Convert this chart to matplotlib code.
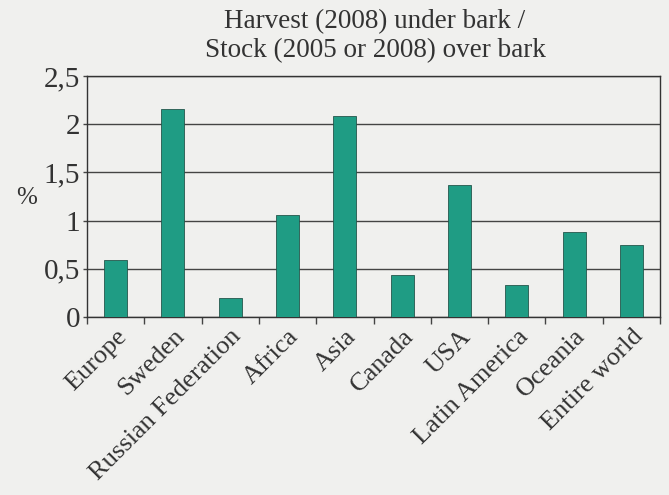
import numpy as np
import matplotlib.pyplot as plt

# Data
regions = ['Europe', 'Sweden', 'Russian Federation', 'Africa', 'Asia',
           'Canada', 'USA', 'Latin America', 'Oceania', 'Entire world']
ratio_pct = [0.59, 2.16, 0.20, 1.06, 2.09, 0.44, 1.37, 0.33, 0.88, 0.75]
yticks = [0, 0.5, 1, 1.5, 2, 2.5]
ytick_labels = ['0', '0,5', '1', '1,5', '2', '2,5']

bg = '#f0f0ee'
plt.rcParams['font.family'] = ['Liberation Serif', 'DejaVu Serif']

fig = plt.figure(figsize=(6.69, 4.95), dpi=100, facecolor=bg)
ax = fig.add_axes([87 / 669, 1 - 317 / 495, (660 - 87) / 669, (317 - 76) / 495])
ax.set_facecolor(bg)

x = np.arange(len(regions))
ax.bar(x, ratio_pct, width=0.4, color='#1f9c84', edgecolor='#24564c', linewidth=0.6, zorder=3)

ax.set_xlim(-0.5, len(regions) - 0.5)
ax.set_ylim(0, 2.5)
ax.set_yticks(yticks)
ax.set_yticklabels(ytick_labels, fontsize=21, color='#333333')
ax.yaxis.grid(True, color='#444444', linewidth=1.0, zorder=0)
ax.tick_params(axis='y', length=3, width=1, color='#444444', pad=2)

# category labels at bar centres, tick marks at category boundaries
ax.set_xticks(x)
ax.set_xticklabels(regions, rotation=45, ha='right', rotation_mode='anchor',
                   fontsize=19, color='#333333')
ax.tick_params(axis='x', length=0, pad=6)
ax.set_xticks(np.arange(len(regions) + 1) - 0.5, minor=True)
ax.tick_params(axis='x', which='minor', length=5, width=1, color='#444444')

for s in ax.spines.values():
    s.set_color('#333333')
    s.set_linewidth(1.0)

fig.text(27 / 669, 1 - 198 / 495, '%', fontsize=18, color='#333333', ha='center', va='center')
fig.text(375 / 669, 1 - 9 / 495, 'Harvest (2008) under bark /\nStock (2005 or 2008) over bark',
         fontsize=19.5, color='#333333', ha='center', va='top', linespacing=1.2)

fig.savefig('out.png', dpi=100, facecolor=bg)
